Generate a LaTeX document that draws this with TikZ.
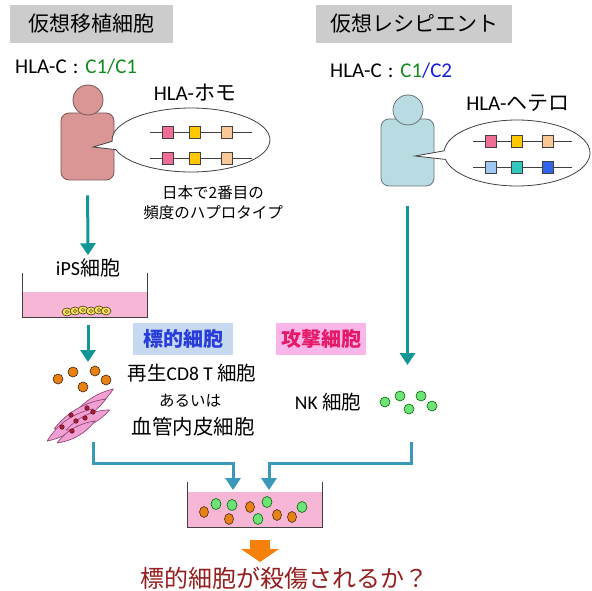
\documentclass[tikz,border=0pt]{standalone}
\usepackage{fontspec}
\setmainfont{Carlito}
\newfontfamily\jp{Noto Sans CJK JP}
\usetikzlibrary{shapes.geometric, shapes.callouts, arrows.meta, positioning}
\definecolor{headgray}{RGB}{204,204,204}
\definecolor{hlagreen}{RGB}{20,140,30}
\definecolor{hlablue}{RGB}{20,30,220}
\definecolor{donorskin}{RGB}{217,150,148}
\definecolor{donorline}{RGB}{120,85,85}
\definecolor{recipskin}{RGB}{185,220,226}
\definecolor{recipline}{RGB}{105,115,120}
\definecolor{arrowteal}{RGB}{20,150,150}
\definecolor{arrowblue}{RGB}{58,152,185}
\definecolor{mediumpink}{RGB}{248,182,214}
\definecolor{ipsyellow}{RGB}{245,225,90}
\definecolor{tcellorange}{RGB}{232,128,20}
\definecolor{nkgreen}{RGB}{110,228,120}
\definecolor{endopink}{RGB}{240,160,210}
\definecolor{endoline}{RGB}{140,60,110}
\definecolor{nucleusred}{RGB}{165,30,60}
\definecolor{targetbg}{RGB}{198,217,240}
\definecolor{targettext}{RGB}{40,60,220}
\definecolor{attackbg}{RGB}{250,182,232}
\definecolor{attacktext}{RGB}{230,25,105}
\definecolor{resultred}{RGB}{150,30,30}
\definecolor{resultorange}{RGB}{245,128,10}
\definecolor{allelepink}{RGB}{240,110,150}
\definecolor{alleleyellow}{RGB}{255,200,0}
\definecolor{allelepeach}{RGB}{250,200,150}
\definecolor{allelesky}{RGB}{160,200,240}
\definecolor{alleleteal}{RGB}{50,200,190}
\definecolor{alleleblue}{RGB}{50,100,240}

\begin{document}
\begin{tikzpicture}[x=1pt, y=-1pt,
    header/.style={fill=headgray, inner sep=0pt, minimum height=38pt, font=\jp\fontsize{21}{25}\selectfont},
    body/.style={draw, rounded corners=8pt, minimum width=53pt, minimum height=67pt, line width=0.8pt},
    head/.style={draw, circle, minimum size=30pt, inner sep=0pt, line width=0.8pt},
    bubble/.style={draw=darkgray, fill=white, ellipse callout, inner sep=0pt, line width=0.8pt},
    allele/.style={draw=darkgray, minimum width=11pt, minimum height=12pt, inner sep=0pt, line width=0.5pt},
    tealarrow/.style={draw=arrowteal, line width=3pt, -{Triangle[width=15pt,length=12pt]}},
    mixarrow/.style={draw=arrowblue, line width=3pt, -{Triangle[width=15pt,length=12pt]}},
    medium/.style={fill=mediumpink, inner sep=0pt},
    dishwall/.style={draw=darkgray, line width=0.8pt},
    tag/.style={inner sep=0pt, minimum height=32pt, font=\jp\bfseries\fontsize{20}{24}\selectfont},
    cellO/.style={fill=tcellorange, draw=black!70!brown, line width=0.6pt},
    cellG/.style={fill=nkgreen, draw=black!60!green, line width=0.6pt}]
\useasboundingbox (0,0) rectangle (592,591);

\node[header, minimum width=163pt] (donortitle) at (91.5,24) {仮想移植細胞};
\node[header, minimum width=196pt] (reciptitle) at (414,24) {仮想レシピエント};
\node[anchor=west, inner sep=0pt, font=\fontsize{21}{25}\selectfont] (donorhla) at (15,67)
    {HLA-C\hspace{1.5pt} : \hspace{2pt}\textcolor{hlagreen}{C1/C1}};
\node[anchor=west, inner sep=0pt, font=\fontsize{21}{25}\selectfont] (reciphla) at (330,71)
    {HLA-C\hspace{1.5pt} : \hspace{2pt}\textcolor{hlagreen}{C1}\textcolor{hlablue}{/C2}};

% donor
\node[body, fill=donorskin, draw=donorline] (donorbody) at (87.5,146.5) {};
\node[head, fill=donorskin, draw=donorline] (donorhead) at (88,100) {};
\node[bubble, minimum width=158pt, minimum height=64pt, callout absolute pointer={(93,147)}] (donorbubble) at (191,140) {};
\foreach \y in {132,158} {
  \draw[darkgray, line width=0.6pt] (150,\y) -- (252,\y);
  \foreach \x/\c in {168/allelepink, 195/alleleyellow, 227/allelepeach}
    \node[allele, fill=\c] (d\x-\y) at (\x,\y) {};
}
\node[font=\fontsize{21}{25}\selectfont] (homo) at (195,93) {HLA-{\jp ホモ}};
\node[align=center, font=\jp\fontsize{15.5}{20}\selectfont] (haplo) at (213,203) {日本で2番目の\\頻度のハプロタイプ};

% recipient
\node[body, fill=recipskin, draw=recipline] (recipbody) at (407.5,152.5) {};
\node[head, fill=recipskin, draw=recipline] (reciphead) at (408,110) {};
\node[bubble, minimum width=146pt, minimum height=66pt, callout absolute pointer={(415,156)}] (recipbubble) at (517,153) {};
\foreach \y/\ca/\cb/\cc in {141/allelepink/alleleyellow/allelepeach, 167/allelesky/alleleteal/alleleblue} {
  \draw[darkgray, line width=0.6pt] (473,\y) -- (572,\y);
  \node[allele, fill=\ca] (ra-\y) at (491,\y) {};
  \node[allele, fill=\cb] (rb-\y) at (517,\y) {};
  \node[allele, fill=\cc] (rc-\y) at (548,\y) {};
}
\node[font=\fontsize{21}{25}\selectfont] (hetero) at (518,103) {HLA-{\jp ヘテロ}};

% iPS dish
\node[font=\fontsize{20}{24}\selectfont] (ipslabel) at (88,268) {iPS{\jp 細胞}};
\node[medium, minimum width=124pt, minimum height=25pt] (ipsmedium) at (85,304.5) {};
\draw[dishwall] ([yshift=19pt]ipsmedium.north west) -- (ipsmedium.south west)
  -- (ipsmedium.south east) -- ([yshift=19pt]ipsmedium.north east);
\foreach \x/\y in {67/312, 75/311, 83/310, 91/311, 99/310, 106/311} {
  \filldraw[fill=ipsyellow, draw=black!70!brown, line width=0.5pt] (\x,\y) ellipse (5 and 4);
  \draw[black!70!brown, line width=0.4pt] (\x,\y) circle (1.6);
}
\draw[tealarrow, shorten <=15pt] (donorbody.south) -- (ipslabel.north);

% target cells
\coordinate (targetin) at (88,362);
\draw[tealarrow, shorten <=8pt] (ipsmedium.south -| targetin) -- (targetin);
\foreach \x/\y in {58/379, 73/372, 83/387, 95/371, 106/380}
  \filldraw[cellO] (\x,\y) circle (5);
\foreach \cx/\cy/\l/\w/\a in {92/404/26/7/35, 80/414/30/8/30, 70/425/28/8/35, 88/420/24/7/25, 76/432/22/6/30} {
  \begin{scope}[shift={(\cx,\cy)}, rotate=\a]
    \filldraw[fill=endopink, draw=endoline, line width=0.6pt] (-\l,0) .. controls (-\l/3,\w) and (\l/3,\w) .. (\l,0)
      .. controls (\l/3,-\w) and (-\l/3,-\w) .. (-\l,0);
  \end{scope}
}
\foreach \x/\y in {87/408, 71/415, 93/412, 76/421, 85/418, 62/427, 72/431}
  \filldraw[fill=nucleusred, draw=black!60!red, line width=0.4pt] (\x,\y) circle (2.3);
\node[tag, fill=targetbg, text=targettext, minimum width=100pt] (targettag) at (183,339) {標的細胞};
\node[font=\fontsize{19.5}{23}\selectfont] (tcell) at (192,373) {{\jp 再生}CD8 T {\jp 細胞}};
\node[font=\jp\fontsize{15.5}{18}\selectfont] (oror) at (190,401) {あるいは};
\node[font=\jp\fontsize{20.5}{24}\selectfont] (endo) at (193,427) {血管内皮細胞};

% NK cells
\coordinate (nkin) at (407.5,365);
\draw[tealarrow, shorten <=20pt] (recipbody.south) -- (nkin);
\node[tag, fill=attackbg, text=attacktext, minimum width=90pt] (attacktag) at (321,339) {攻撃細胞};
\node[font=\fontsize{19.5}{23}\selectfont] (nklabel) at (328,402) {NK {\jp 細胞}};
\foreach \x/\y in {385/402, 400/396, 409/409, 421/396, 432/406}
  \filldraw[cellG] (\x,\y) circle (5);

% co-culture
\coordinate (targetout) at (93,442);
\coordinate (nkout) at (411,442);
\coordinate (mixinL) at (233,490);
\coordinate (mixinR) at (269,490);
\node[medium, minimum width=134pt, minimum height=35pt] (mixmedium) at (255,509.5) {};
\draw[dishwall] ([yshift=10pt]mixmedium.north west) -- (mixmedium.south west)
  -- (mixmedium.south east) -- ([yshift=10pt]mixmedium.north east);
\draw[mixarrow] (targetout) -- ++(0,21) -| (mixinL);
\draw[mixarrow] (nkout) -- ++(0,21) -| (mixinR);
\foreach \x/\y in {204/512, 229/519, 250/507, 277/515, 292/517}
  \filldraw[cellO] (\x,\y) ellipse (4.5 and 5.5);
\foreach \x/\y in {216/504, 232/505, 258/519, 267/502, 302/507}
  \filldraw[cellG] (\x,\y) ellipse (5 and 5.5);

\fill[resultorange] (250,540) -- (270,540) -- (270,549) -- (279,549) -- (260,562) -- (241,549) -- (250,549) -- cycle;
\node[font=\jp\fontsize{24}{28}\selectfont, text=resultred] (result) at (284,578) {標的細胞が殺傷されるか？};
\end{tikzpicture}
\end{document}
